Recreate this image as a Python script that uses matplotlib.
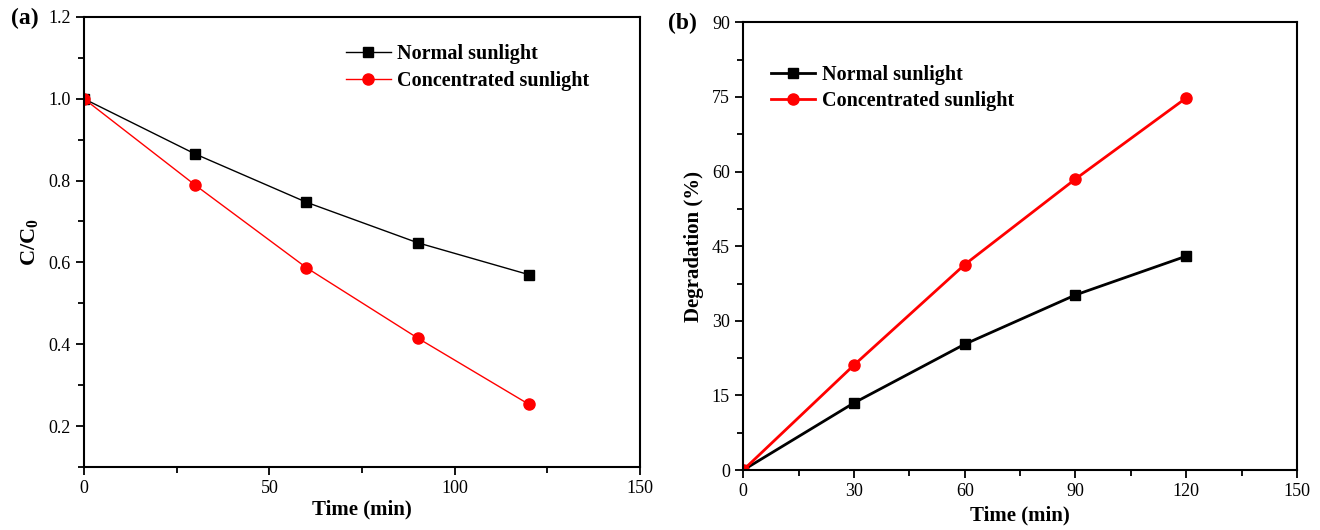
import matplotlib
matplotlib.use("Agg")
import matplotlib.pyplot as plt
from matplotlib.ticker import MultipleLocator

plt.rcParams['font.family'] = ['Liberation Serif', 'DejaVu Serif']
plt.rcParams['mathtext.fontset'] = 'custom'
plt.rcParams['mathtext.rm'] = 'Liberation Serif'
plt.rcParams['mathtext.bf'] = 'Liberation Serif:bold'

# data
time = [0, 30, 60, 90, 120]
ratio_normal = [1.0, 0.865, 0.747, 0.648, 0.570]
ratio_conc = [1.0, 0.789, 0.587, 0.415, 0.253]
deg_normal = [0, 13.5, 25.3, 35.2, 43.0]
deg_conc = [0, 21.1, 41.3, 58.5, 74.8]
labels = ['Normal sunlight', 'Concentrated sunlight']

fig = plt.figure(figsize=(13.2, 5.3), dpi=100)
ax1 = fig.add_axes([0.0636, 0.119, 0.4214, 0.849])
ax2 = fig.add_axes([0.563, 0.113, 0.4196, 0.845])

# (a) C/C0
ax1.plot(time, ratio_normal, color='black', lw=1, marker='s', ms=7, label=labels[0])
ax1.plot(time, ratio_conc, color='red', lw=1, marker='o', ms=8, label=labels[1])
ax1.set_xlim(0, 150)
ax1.set_ylim(0.1, 1.2)
ax1.xaxis.set_major_locator(MultipleLocator(50))
ax1.xaxis.set_minor_locator(MultipleLocator(25))
ax1.yaxis.set_minor_locator(MultipleLocator(0.1))
ax1.set_yticks([0.2, 0.4, 0.6, 0.8, 1.0, 1.2])
ax1.set_xlabel('Time (min)', fontsize=15, fontweight='bold', labelpad=2)
ax1.set_ylabel(r'$\mathbf{C/C_0}$', fontsize=16, labelpad=6)
ax1.legend(loc='upper left', bbox_to_anchor=(0.457, 0.958), frameon=False,
           prop={'weight': 'bold', 'size': 14.5}, handlelength=2.2, labelspacing=0.35,
           handletextpad=0.3, borderaxespad=0)
fig.text(0.008, 0.955, '(a)', fontsize=17, fontweight='bold')

# (b) degradation
ax2.plot(time, deg_normal, color='black', lw=2, marker='s', ms=7, label=labels[0])
ax2.plot(time, deg_conc, color='red', lw=2, marker='o', ms=8, label=labels[1])
ax2.set_xlim(0, 150)
ax2.set_ylim(0, 90)
ax2.xaxis.set_major_locator(MultipleLocator(30))
ax2.xaxis.set_minor_locator(MultipleLocator(15))
ax2.yaxis.set_major_locator(MultipleLocator(15))
ax2.yaxis.set_minor_locator(MultipleLocator(7.5))
ax2.set_xlabel('Time (min)', fontsize=15, fontweight='bold', labelpad=4)
ax2.set_ylabel('Degradation (%)', fontsize=15, fontweight='bold', labelpad=6)
ax2.legend(loc='upper left', bbox_to_anchor=(0.036, 0.922), frameon=False,
           prop={'weight': 'bold', 'size': 14.5}, handlelength=2.2, labelspacing=0.3,
           handletextpad=0.3, borderaxespad=0)
fig.text(0.506, 0.945, '(b)', fontsize=17, fontweight='bold')

for ax in (ax1, ax2):
    for s in ax.spines.values():
        s.set_linewidth(1.5)
    ax.tick_params(which='both', direction='out', labelsize=13, width=1.3,
                   top=False, right=False)
    ax.tick_params(which='major', length=6)
    ax.tick_params(which='minor', length=4)

fig.savefig('out.png', dpi=100)
